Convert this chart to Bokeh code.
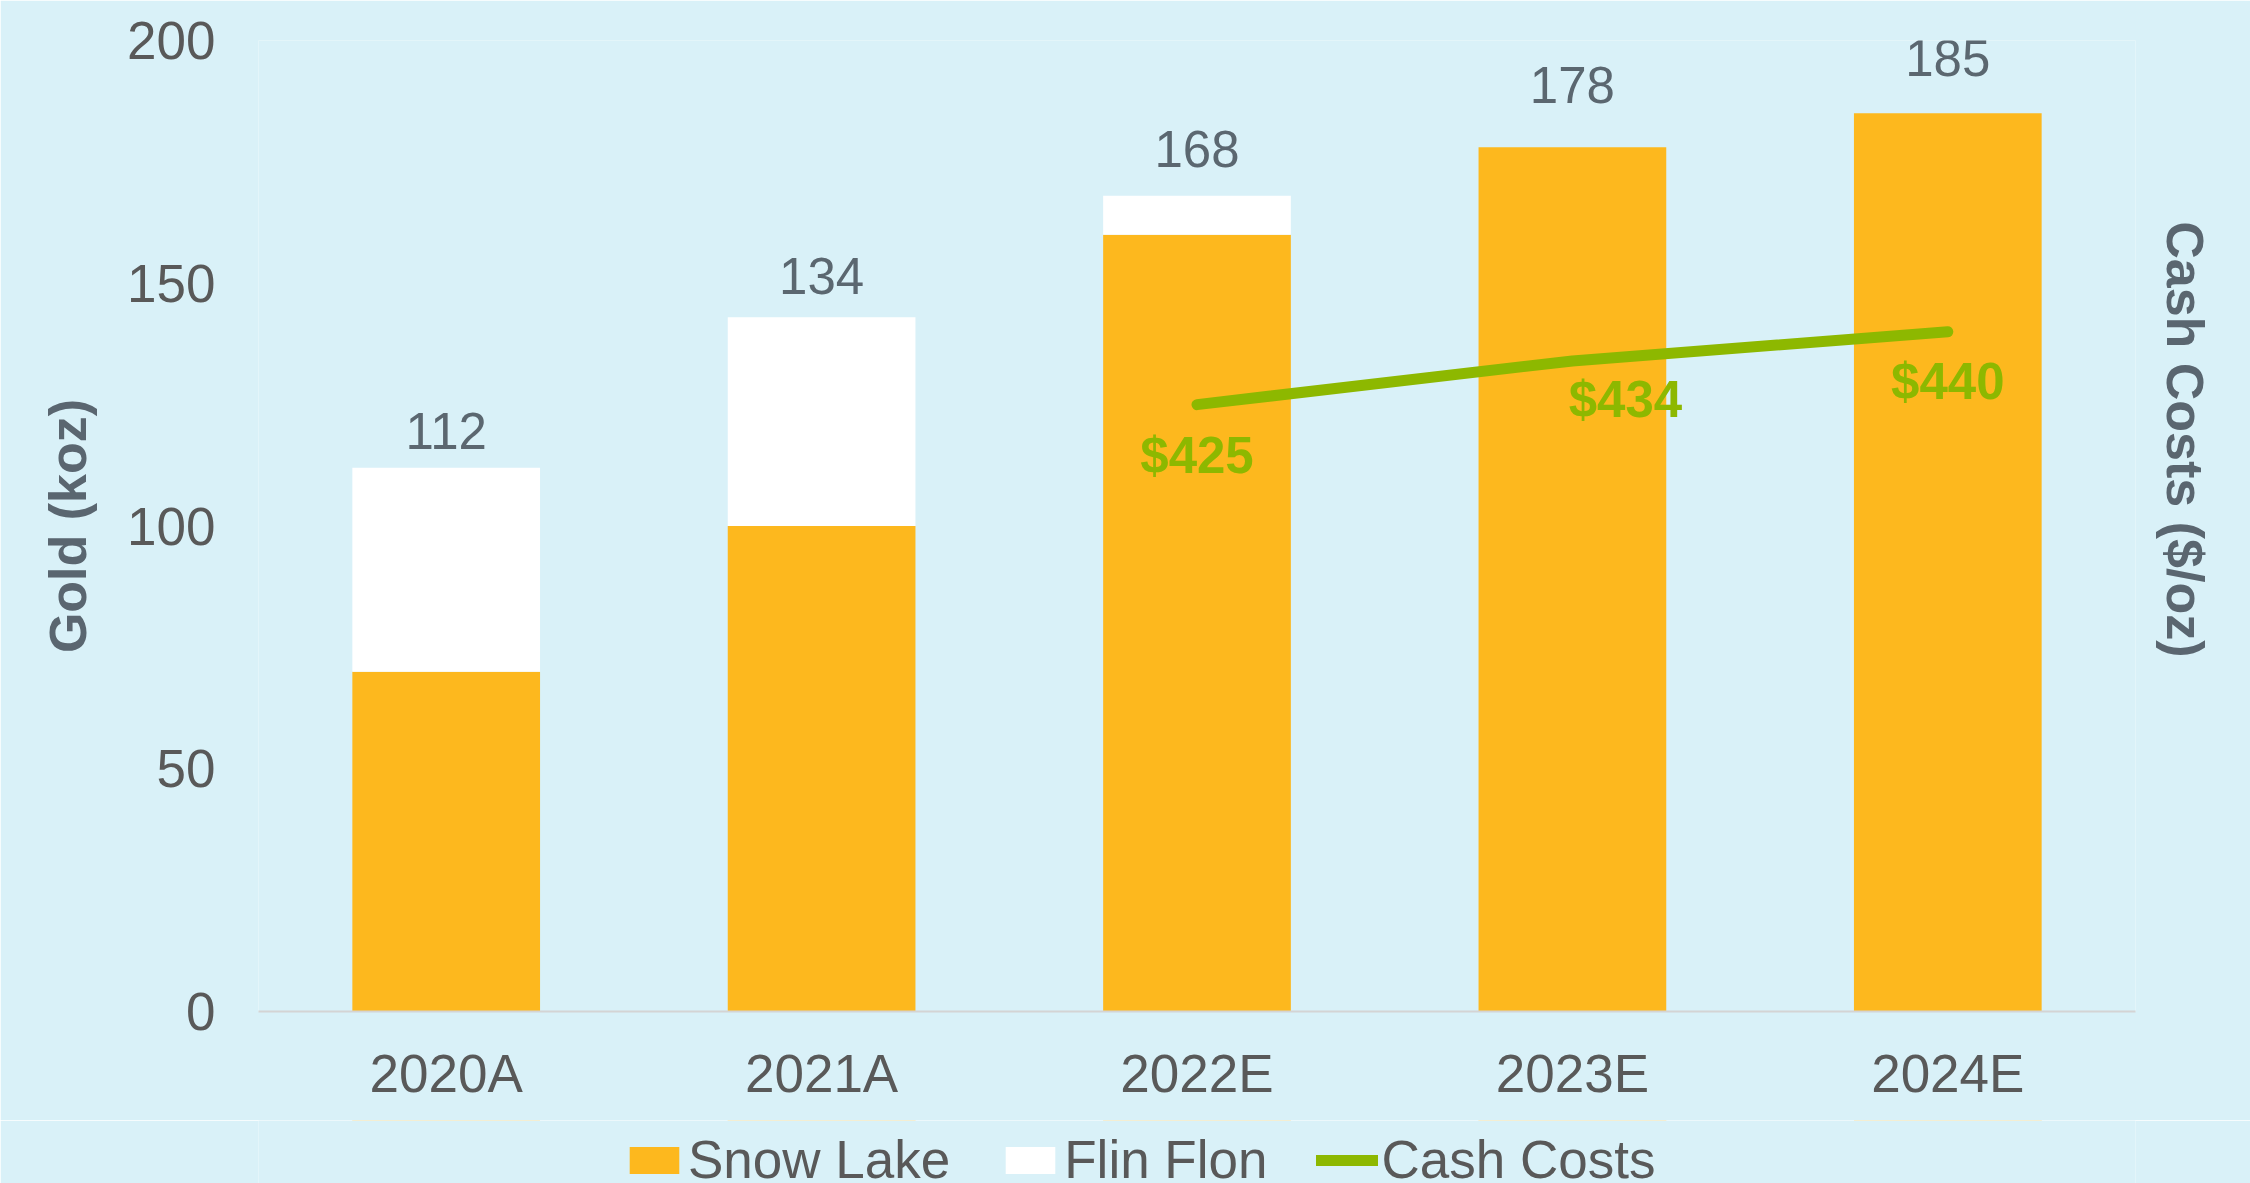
from bokeh.plotting import figure
from bokeh.layouts import column
from bokeh.models import (FactorRange, Range1d, Legend, LegendItem, LinearAxis,
                          ColumnDataSource, FixedTicker)
from bokeh.core.properties import value
from bokeh.embed import file_html
from bokeh.resources import INLINE

# ---- data ----
years = ["2020A", "2021A", "2022E", "2023E", "2024E"]
snow_lake = [70, 100, 160, 178, 185]
flin_flon = [42, 43, 8, 0, 0]
total_labels = ["112", "134", "168", "178", "185"]
cost_years = ["2022E", "2023E", "2024E"]
cash_costs = [425, 434, 440]
cost_labels = ["$425", "$434", "$440"]
y_ticks = [0, 50, 100, 150, 200]

# ---- styles ----
BG = "#D9F1F8"
ORANGE = "#FDB81E"
GREEN = "#8DB800"
TICK_GRAY = "#595959"
TITLE_GRAY = "#5A6670"
FONT = "Liberation Sans"
total_dy = [-37, -41, -47, -62, -55]
cost_dx = [0, 53, 0]
cost_dy = [51, 39, 50]

totals = [s + f for s, f in zip(snow_lake, flin_flon)]
bars = ColumnDataSource(dict(x=years, snow=snow_lake, total=totals,
                             lab=total_labels, dy=total_dy))
costs = ColumnDataSource(dict(x=cost_years, y=cash_costs, lab=cost_labels,
                              dx=cost_dx, dy=cost_dy))

p = figure(x_range=FactorRange(factors=years, range_padding=0),
           y_range=Range1d(0, 200),
           width=2250, height=1120,
           output_backend="svg", toolbar_location=None,
           min_border_left=258, min_border_right=115,
           min_border_top=40, min_border_bottom=109)
p.extra_y_ranges = {"cash": Range1d(300, 500)}

p.background_fill_color = BG
p.border_fill_color = BG
p.outline_line_color = None
p.xgrid.grid_line_color = None
p.ygrid.grid_line_color = None

p.vbar(x="x", top="snow", bottom=0, width=0.5, source=bars,
       fill_color=ORANGE, line_color=None)
p.vbar(x="x", top="total", bottom="snow", width=0.5, source=bars,
       fill_color="white", line_color=None)
p.line(x="x", y="y", source=costs, y_range_name="cash",
       line_color=GREEN, line_width=11, line_cap="round", line_join="round")

p.text(x="x", y="total", text="lab", source=bars, y_offset="dy",
       text_align="center", text_baseline="middle",
       text_font=value(FONT), text_font_size="51px", text_color="#5B6770")
p.text(x="x", y="y", text="lab", source=costs, y_range_name="cash",
       x_offset="dx", y_offset="dy",
       text_align="center", text_baseline="middle",
       text_font=value(FONT), text_font_size="51px", text_font_style="bold",
       text_color=GREEN)

# x axis
xa = p.xaxis[0]
xa.axis_line_color = "#D4D4D4"
xa.axis_line_width = 2
xa.major_tick_line_color = None
xa.minor_tick_line_color = None
xa.major_tick_out = 0
xa.major_label_standoff = 32
xa.major_label_text_font = FONT
xa.major_label_text_font_size = "53px"
xa.major_label_text_color = TICK_GRAY

# y axis
ya = p.yaxis[0]
ya.ticker = FixedTicker(ticks=y_ticks)
ya.axis_line_color = None
ya.major_tick_line_color = None
ya.minor_tick_line_color = None
ya.major_tick_out = 0
ya.major_label_standoff = 43
ya.major_label_text_font = FONT
ya.major_label_text_font_size = "53px"
ya.major_label_text_color = TICK_GRAY
ya.axis_label = "Gold (koz)"
ya.axis_label_text_font = FONT
ya.axis_label_text_font_size = "52px"
ya.axis_label_text_font_style = "bold"
ya.axis_label_text_color = TITLE_GRAY
ya.axis_label_standoff = 27

# right axis (title only)
NBSP = "\u00a0"
ra = LinearAxis(y_range_name="cash", ticker=FixedTicker(ticks=[]),
                axis_label="Cash Costs ($/oz)" + NBSP * 12,
                axis_line_color=None, major_tick_line_color=None,
                minor_tick_line_color=None, major_tick_out=0, major_tick_in=0,
                axis_label_standoff=20,
                axis_label_text_font=FONT, axis_label_text_font_size="52px",
                axis_label_text_font_style="bold",
                axis_label_text_color=TITLE_GRAY)
p.add_layout(ra, "right")

# ---- legend strip (its sample glyphs use the same data, kept off-range) ----
q = figure(x_range=FactorRange(factors=years, range_padding=0),
           y_range=Range1d(-2, -1), width=2250, height=63,
           output_backend="svg", toolbar_location=None,
           x_axis_location=None, y_axis_location=None,
           min_border_left=0, min_border_right=0,
           min_border_top=0, min_border_bottom=0)
q.background_fill_color = BG
q.border_fill_color = BG
q.outline_line_color = None
q.grid.visible = False
l_snow = q.vbar(x="x", top="snow", bottom=0, width=0.5, source=bars,
                fill_color=ORANGE, line_color=None)
l_flin = q.vbar(x="x", top="total", bottom="snow", width=0.5, source=bars,
                fill_color="white", line_color=None)
l_line = q.line(x="x", y="y", source=costs, line_color=GREEN, line_width=11,
                line_cap="round")

legend = Legend(items=[LegendItem(label="Snow Lake", renderers=[l_snow]),
                       LegendItem(label="Flin Flon", renderers=[l_flin]),
                       LegendItem(label="Cash Costs", renderers=[l_line])],
                orientation="horizontal", location=(365, -7),
                padding=0, margin=0, spacing=49, label_standoff=3,
                glyph_width=62, glyph_height=34,
                label_text_font=FONT, label_text_font_size="53px",
                label_text_color=TICK_GRAY,
                background_fill_alpha=0, border_line_color=None)
q.add_layout(legend, "center")

page = column(p, q, spacing=0)
open("out.html", "w").write(file_html(page, INLINE))
